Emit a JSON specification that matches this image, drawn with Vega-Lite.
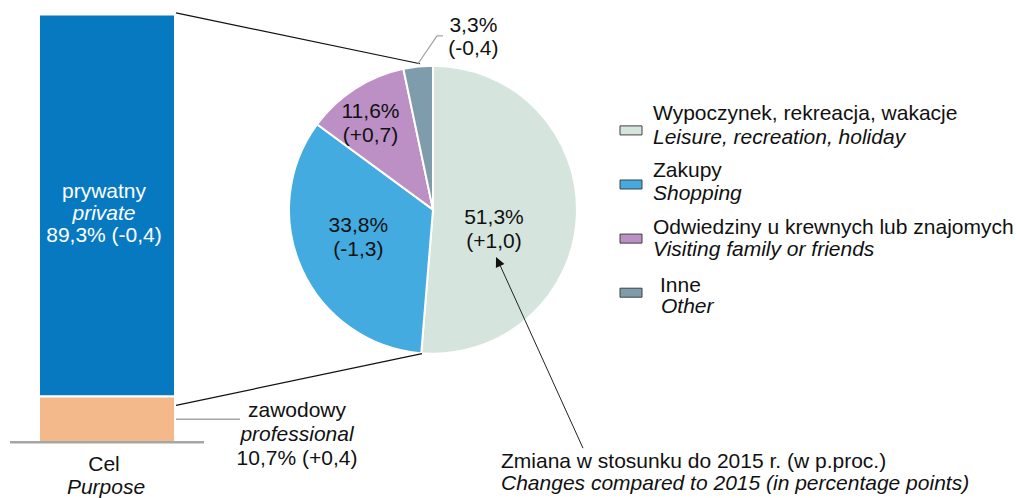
{
  "$schema": "https://vega.github.io/schema/vega-lite/v6.json",
  "width": 1016,
  "height": 498,
  "autosize": {"type": "fit", "contains": "padding"},
  "padding": 0,
  "background": "white",
  "config": {"view": {"stroke": null}},
  "datasets": {
    "purpose": [
      {"pl": "prywatny", "en": "private", "pct": 89.3, "chg": -0.4, "ord": 2},
      {"pl": "zawodowy", "en": "professional", "pct": 10.7, "chg": 0.4, "ord": 1}
    ],
    "pie": [
      {"pl": "Wypoczynek, rekreacja, wakacje", "en": "Leisure, recreation, holiday", "pct": 51.3, "chg": 1.0, "ord": 1},
      {"pl": "Zakupy", "en": "Shopping", "pct": 33.8, "chg": -1.3, "ord": 2},
      {"pl": "Odwiedziny u krewnych lub znajomych", "en": "Visiting family or friends", "pct": 11.6, "chg": 0.7, "ord": 3},
      {"pl": "Inne", "en": "Other", "pct": 3.3, "chg": -0.4, "ord": 4}
    ]
  },
  "resolve": {"scale": {"y": "independent", "color": "independent"}},
  "layer": [
    {
      "data": {"name": "purpose"},
      "transform": [
        {"stack": "pct", "groupby": [], "sort": [{"field": "ord", "order": "ascending"}], "as": ["y0", "y1"]},
        {"calculate": "(datum.y0 + datum.y1) / 2", "as": "mid"},
        {"calculate": "replace(format(datum.pct, '.1f'), '.', ',') + '% (' + (datum.chg < 0 ? '-' : '+') + replace(format(abs(datum.chg), '.1f'), '.', ',') + ')'", "as": "lbl"}
      ],
      "layer": [
        {
          "mark": {"type": "rect", "stroke": "white", "strokeWidth": 2},
          "encoding": {
            "x": {"datum": 39, "type": "quantitative", "scale": {"domain": [0, 1016], "nice": false, "zero": false}, "axis": null},
            "x2": {"datum": 175},
            "y": {"field": "y0", "type": "quantitative", "scale": {"domain": [-12.58, 103.42], "nice": false, "zero": false}, "axis": null},
            "y2": {"field": "y1"},
            "color": {"field": "ord", "type": "nominal", "scale": {"domain": [1, 2], "range": ["#f4b98b", "#0779c1"]}, "legend": null}
          }
        },
        {
          "transform": [{"filter": "datum.ord == 1"}],
          "mark": {"type": "rule", "color": "#a6a6a6", "strokeWidth": 2.5},
          "encoding": {
            "x": {"datum": 10, "type": "quantitative"},
            "x2": {"datum": 204},
            "y": {"datum": 0, "type": "quantitative"}
          }
        },
        {
          "transform": [{"filter": "datum.ord == 1"}],
          "mark": {"type": "rule", "color": "#a6a6a6", "strokeWidth": 1.5},
          "encoding": {
            "x": {"datum": 176, "type": "quantitative"},
            "x2": {"datum": 240},
            "y": {"field": "mid", "type": "quantitative"}
          }
        },
        {
          "transform": [{"filter": "datum.ord == 2"}],
          "mark": {"type": "text", "align": "center", "baseline": "alphabetic", "dy": -8, "color": "white", "font": "Liberation Sans", "fontSize": 21},
          "encoding": {"x": {"datum": 104, "type": "quantitative"}, "y": {"field": "mid", "type": "quantitative"}, "text": {"field": "pl"}}
        },
        {
          "transform": [{"filter": "datum.ord == 2"}],
          "mark": {"type": "text", "align": "center", "baseline": "alphabetic", "dy": 14, "color": "white", "font": "Liberation Sans", "fontSize": 21, "fontStyle": "italic"},
          "encoding": {"x": {"datum": 104, "type": "quantitative"}, "y": {"field": "mid", "type": "quantitative"}, "text": {"field": "en"}}
        },
        {
          "transform": [{"filter": "datum.ord == 2"}],
          "mark": {"type": "text", "align": "center", "baseline": "alphabetic", "dy": 36, "color": "white", "font": "Liberation Sans", "fontSize": 21},
          "encoding": {"x": {"datum": 104, "type": "quantitative"}, "y": {"field": "mid", "type": "quantitative"}, "text": {"field": "lbl"}}
        },
        {
          "transform": [{"filter": "datum.ord == 1"}],
          "mark": {"type": "text", "align": "center", "baseline": "alphabetic", "dy": -2, "color": "#111111", "font": "Liberation Sans", "fontSize": 21},
          "encoding": {"x": {"datum": 297, "type": "quantitative"}, "y": {"field": "mid", "type": "quantitative"}, "text": {"field": "pl"}}
        },
        {
          "transform": [{"filter": "datum.ord == 1"}],
          "mark": {"type": "text", "align": "center", "baseline": "alphabetic", "dy": 22, "color": "#111111", "font": "Liberation Sans", "fontSize": 21, "fontStyle": "italic"},
          "encoding": {"x": {"datum": 297, "type": "quantitative"}, "y": {"field": "mid", "type": "quantitative"}, "text": {"field": "en"}}
        },
        {
          "transform": [{"filter": "datum.ord == 1"}],
          "mark": {"type": "text", "align": "center", "baseline": "alphabetic", "dy": 46, "color": "#111111", "font": "Liberation Sans", "fontSize": 21},
          "encoding": {"x": {"datum": 297, "type": "quantitative"}, "y": {"field": "mid", "type": "quantitative"}, "text": {"field": "lbl"}}
        }
      ]
    },
    {
      "layer": [
        {
          "data": {"name": "pie"},
          "mark": {"type": "arc", "outerRadius": 144, "stroke": "white", "strokeWidth": 2},
          "encoding": {
            "x": {"datum": 433, "type": "quantitative", "scale": {"domain": [0, 1016], "nice": false, "zero": false}, "axis": null},
            "y": {"datum": 210.5, "type": "quantitative", "scale": {"domain": [0, 498], "reverse": true, "nice": false, "zero": false}, "axis": null},
            "theta": {"field": "pct", "type": "quantitative", "stack": true},
            "order": {"field": "ord", "type": "quantitative", "sort": "ascending"},
            "color": {"field": "ord", "type": "nominal", "scale": {"domain": [1, 2, 3, 4], "range": ["#d5e5dd", "#44abe0", "#bc8fc5", "#7e9cab"]}, "legend": null}
          }
        },
        {
          "data": {"name": "pie"},
          "transform": [
            {"stack": "pct", "groupby": [], "sort": [{"field": "ord", "order": "ascending"}], "as": ["t0", "t1"]},
            {"calculate": "(datum.t0 + datum.t1) / 2", "as": "tm"},
            {"calculate": "replace(format(datum.pct, '.1f'), '.', ',') + '%|(' + (datum.chg < 0 ? '-' : '+') + replace(format(abs(datum.chg), '.1f'), '.', ',') + ')'", "as": "lbl"},
            {"filter": "datum.ord == 1"}
          ],
          "mark": {"type": "text", "radius": 61, "dy": 12, "align": "center", "baseline": "alphabetic", "lineBreak": "|", "lineHeight": 24, "color": "#111111", "font": "Liberation Sans", "fontSize": 21},
          "encoding": {
            "x": {"datum": 433, "type": "quantitative"},
            "y": {"datum": 210.5, "type": "quantitative"},
            "theta": {"field": "tm", "type": "quantitative", "stack": null},
            "text": {"field": "lbl"}
          }
        },
        {
          "data": {"name": "pie"},
          "transform": [
            {"stack": "pct", "groupby": [], "sort": [{"field": "ord", "order": "ascending"}], "as": ["t0", "t1"]},
            {"calculate": "(datum.t0 + datum.t1) / 2", "as": "tm"},
            {"calculate": "replace(format(datum.pct, '.1f'), '.', ',') + '%|(' + (datum.chg < 0 ? '-' : '+') + replace(format(abs(datum.chg), '.1f'), '.', ',') + ')'", "as": "lbl"},
            {"filter": "datum.ord == 2"}
          ],
          "mark": {"type": "text", "radius": 82, "dy": -11.4, "align": "center", "baseline": "alphabetic", "lineBreak": "|", "lineHeight": 24, "color": "#111111", "font": "Liberation Sans", "fontSize": 21},
          "encoding": {
            "x": {"datum": 433, "type": "quantitative"},
            "y": {"datum": 210.5, "type": "quantitative"},
            "theta": {"field": "tm", "type": "quantitative", "stack": null},
            "text": {"field": "lbl"}
          }
        },
        {
          "data": {"name": "pie"},
          "transform": [
            {"stack": "pct", "groupby": [], "sort": [{"field": "ord", "order": "ascending"}], "as": ["t0", "t1"]},
            {"calculate": "(datum.t0 + datum.t1) / 2", "as": "tm"},
            {"calculate": "replace(format(datum.pct, '.1f'), '.', ',') + '%|(' + (datum.chg < 0 ? '-' : '+') + replace(format(abs(datum.chg), '.1f'), '.', ',') + ')'", "as": "lbl"},
            {"filter": "datum.ord == 3"}
          ],
          "mark": {"type": "text", "radius": 115.5, "dy": 5.5, "align": "center", "baseline": "alphabetic", "lineBreak": "|", "lineHeight": 24, "color": "#111111", "font": "Liberation Sans", "fontSize": 21},
          "encoding": {
            "x": {"datum": 433, "type": "quantitative"},
            "y": {"datum": 210.5, "type": "quantitative"},
            "theta": {"field": "tm", "type": "quantitative", "stack": null},
            "text": {"field": "lbl"}
          }
        },
        {
          "data": {"name": "pie"},
          "transform": [
            {"stack": "pct", "groupby": [], "sort": [{"field": "ord", "order": "ascending"}], "as": ["t0", "t1"]},
            {"calculate": "(datum.t0 + datum.t1) / 2", "as": "tm"},
            {"calculate": "replace(format(datum.pct, '.1f'), '.', ',') + '%|(' + (datum.chg < 0 ? '-' : '+') + replace(format(abs(datum.chg), '.1f'), '.', ',') + ')'", "as": "lbl"},
            {"filter": "datum.ord == 4"}
          ],
          "mark": {"type": "text", "radius": 180, "dx": 59, "dy": 1.5, "align": "center", "baseline": "alphabetic", "lineBreak": "|", "lineHeight": 23, "color": "#111111", "font": "Liberation Sans", "fontSize": 21},
          "encoding": {
            "x": {"datum": 433, "type": "quantitative"},
            "y": {"datum": 210.5, "type": "quantitative"},
            "theta": {"field": "tm", "type": "quantitative", "stack": null},
            "text": {"field": "lbl"}
          }
        },
        {
          "data": {"values": [{}]},
          "mark": {"type": "rule", "color": "#111111", "strokeWidth": 1.2},
          "encoding": {"x": {"datum": 176, "type": "quantitative"}, "y": {"datum": 13, "type": "quantitative"}, "x2": {"datum": 420}, "y2": {"datum": 64}}
        },
        {
          "data": {"values": [{}]},
          "mark": {"type": "rule", "color": "#111111", "strokeWidth": 1.2},
          "encoding": {"x": {"datum": 176, "type": "quantitative"}, "y": {"datum": 407, "type": "quantitative"}, "x2": {"datum": 422}, "y2": {"datum": 355}}
        },
        {
          "data": {"values": [{}]},
          "mark": {"type": "rule", "color": "#a0a0a0", "strokeWidth": 1.2},
          "encoding": {"x": {"datum": 418, "type": "quantitative"}, "y": {"datum": 64, "type": "quantitative"}, "x2": {"datum": 437}, "y2": {"datum": 36}}
        },
        {
          "data": {"values": [{}]},
          "mark": {"type": "rule", "color": "#a0a0a0", "strokeWidth": 1.2},
          "encoding": {"x": {"datum": 437, "type": "quantitative"}, "y": {"datum": 36, "type": "quantitative"}, "x2": {"datum": 443}, "y2": {"datum": 36}}
        },
        {
          "data": {"values": [{}]},
          "mark": {"type": "rule", "color": "#222222", "strokeWidth": 1},
          "encoding": {"x": {"datum": 583, "type": "quantitative"}, "y": {"datum": 450, "type": "quantitative"}, "x2": {"datum": 499}, "y2": {"datum": 264}}
        },
        {
          "data": {"values": [{}]},
          "mark": {"type": "point", "shape": "M0,-1L0.75,0.6L-0.75,0.6Z", "size": 156, "angle": 335.6, "filled": true, "color": "#111111", "opacity": 1},
          "encoding": {"x": {"datum": 498.6, "type": "quantitative"}, "y": {"datum": 263.7, "type": "quantitative"}}
        },
        {
          "data": {"values": [{}]},
          "mark": {"type": "text", "align": "left", "baseline": "alphabetic", "color": "#111111", "font": "Liberation Sans", "fontSize": 21},
          "encoding": {"x": {"datum": 501, "type": "quantitative"}, "y": {"datum": 470, "type": "quantitative"}, "text": {"value": "Zmiana w stosunku do 2015 r. (w p.proc.)"}}
        },
        {
          "data": {"values": [{}]},
          "mark": {"type": "text", "align": "left", "baseline": "alphabetic", "color": "#111111", "font": "Liberation Sans", "fontSize": 21, "fontStyle": "italic"},
          "encoding": {"x": {"datum": 501, "type": "quantitative"}, "y": {"datum": 492, "type": "quantitative"}, "text": {"value": "Changes compared to 2015 (in percentage points)"}}
        },
        {
          "data": {"values": [{}]},
          "mark": {"type": "text", "align": "center", "baseline": "alphabetic", "color": "#111111", "font": "Liberation Sans", "fontSize": 21},
          "encoding": {"x": {"datum": 104, "type": "quantitative"}, "y": {"datum": 472.5, "type": "quantitative"}, "text": {"value": "Cel"}}
        },
        {
          "data": {"values": [{}]},
          "mark": {"type": "text", "align": "center", "baseline": "alphabetic", "color": "#111111", "font": "Liberation Sans", "fontSize": 21, "fontStyle": "italic"},
          "encoding": {"x": {"datum": 106, "type": "quantitative"}, "y": {"datum": 496, "type": "quantitative"}, "text": {"value": "Purpose"}}
        }
      ]
    },
    {
      "data": {"name": "pie"},
      "resolve": {"scale": {"y": "independent"}},
      "layer": [
        {
          "mark": {"type": "point", "shape": "M-1,-0.41L1,-0.41L1,0.41L-1,0.41Z", "size": 484, "filled": true, "opacity": 1, "stroke": "#404040", "strokeWidth": 1},
          "encoding": {
            "x": {"datum": 631, "type": "quantitative", "scale": {"domain": [0, 1016], "nice": false, "zero": false}, "axis": null},
            "y": {"field": "ord", "type": "ordinal", "scale": {"type": "point", "padding": 0, "range": [130.4, 292.7]}, "axis": null},
            "color": {"field": "ord", "type": "nominal", "scale": {"domain": [1, 2, 3, 4], "range": ["#d5e5dd", "#44abe0", "#bc8fc5", "#7e9cab"]}, "legend": null}
          }
        },
        {
          "mark": {"type": "text", "align": "left", "baseline": "alphabetic", "color": "#111111", "font": "Liberation Sans", "fontSize": 21},
          "encoding": {
            "x": {"datum": 653, "type": "quantitative"},
            "y": {"field": "ord", "type": "ordinal", "scale": {"type": "point", "padding": 0, "range": [120.1, 291.6]}, "axis": null},
            "text": {"condition": {"test": "datum.ord == 4", "value": ""}, "field": "pl"}
          }
        },
        {
          "mark": {"type": "text", "align": "left", "baseline": "alphabetic", "dx": 7, "color": "#111111", "font": "Liberation Sans", "fontSize": 21},
          "encoding": {
            "x": {"datum": 653, "type": "quantitative"},
            "y": {"field": "ord", "type": "ordinal", "scale": {"type": "point", "padding": 0, "range": [120.1, 291.6]}, "axis": null},
            "text": {"condition": {"test": "datum.ord != 4", "value": ""}, "field": "pl"}
          }
        },
        {
          "mark": {"type": "text", "align": "left", "baseline": "alphabetic", "color": "#111111", "font": "Liberation Sans", "fontSize": 21, "fontStyle": "italic"},
          "encoding": {
            "x": {"datum": 653, "type": "quantitative"},
            "y": {"field": "ord", "type": "ordinal", "scale": {"type": "point", "padding": 0, "range": [143.6, 312.8]}, "axis": null},
            "text": {"condition": {"test": "datum.ord == 4", "value": ""}, "field": "en"}
          }
        },
        {
          "mark": {"type": "text", "align": "left", "baseline": "alphabetic", "dx": 8, "color": "#111111", "font": "Liberation Sans", "fontSize": 21, "fontStyle": "italic"},
          "encoding": {
            "x": {"datum": 653, "type": "quantitative"},
            "y": {"field": "ord", "type": "ordinal", "scale": {"type": "point", "padding": 0, "range": [143.6, 312.8]}, "axis": null},
            "text": {"condition": {"test": "datum.ord != 4", "value": ""}, "field": "en"}
          }
        }
      ]
    }
  ]
}
